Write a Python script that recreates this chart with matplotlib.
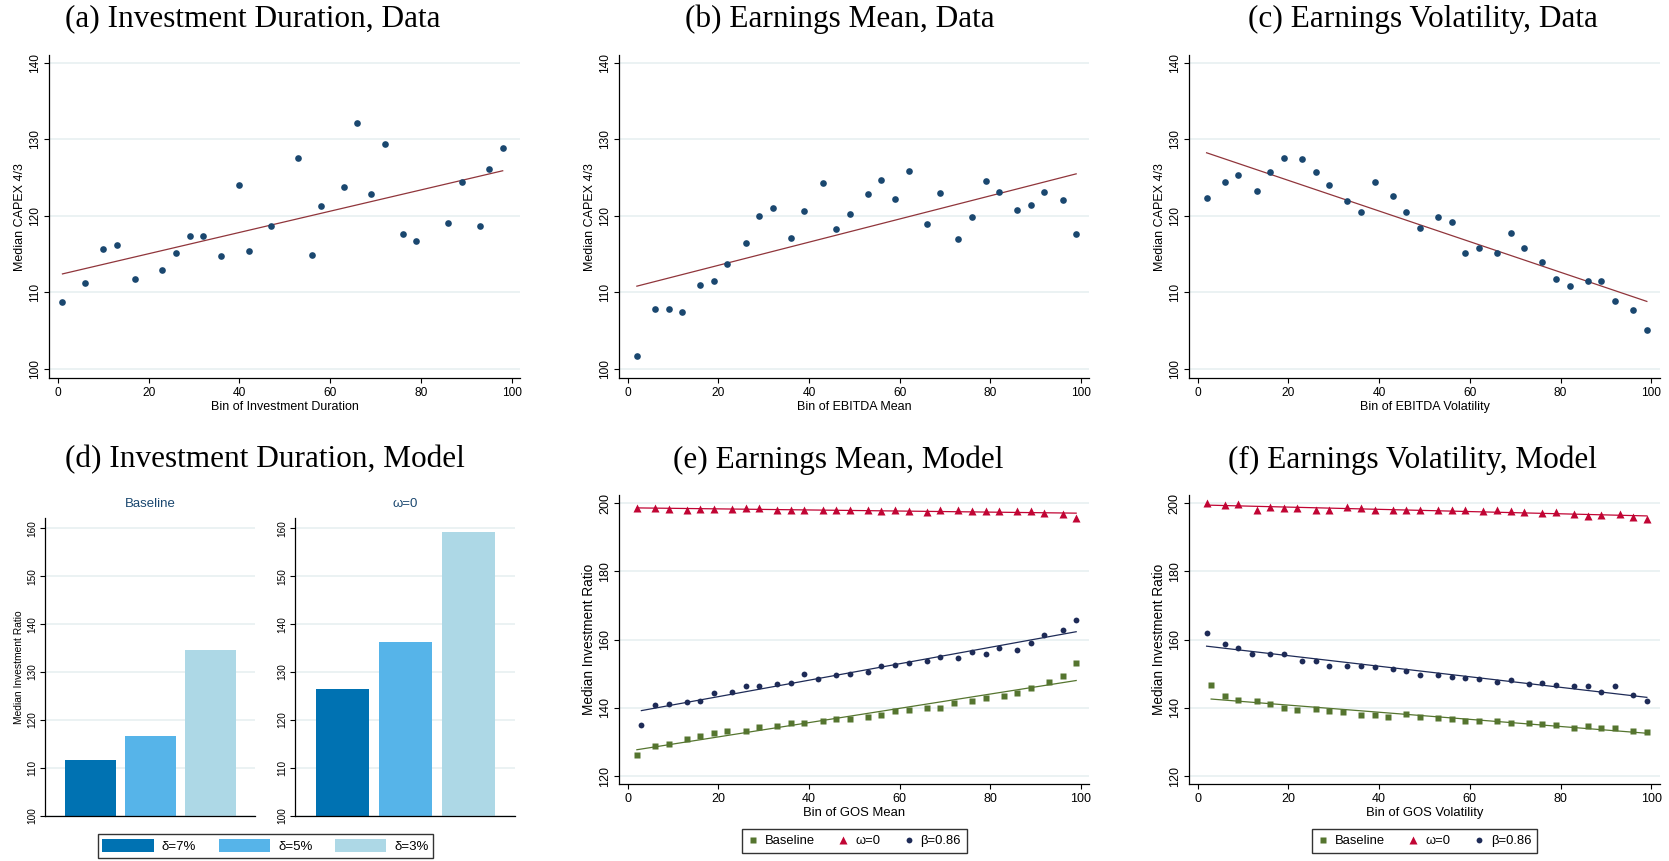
import numpy as np
import matplotlib
matplotlib.use("Agg")
from matplotlib import pyplot as plt
from matplotlib.patches import Patch
from matplotlib.lines import Line2D

plt.rcParams['font.family'] = ['Liberation Sans', 'DejaVu Sans']

# ---- data panels (top row)
a_x = [1, 6, 10, 13, 17, 23, 26, 29, 32, 36, 40, 42, 47, 53, 56, 58, 63, 66, 69, 72, 76, 79, 86, 89, 93, 95, 98]
a_y = [108.7, 111.2, 115.7, 116.2, 111.8, 112.9, 115.2, 117.4, 117.4, 114.7, 124.0, 115.4, 118.7, 127.6,
       114.9, 121.3, 123.8, 132.1, 122.8, 129.4, 117.6, 116.7, 119.1, 124.4, 118.7, 126.1, 128.8]

b_x = [2, 6, 9, 12, 16, 19, 22, 26, 29, 32, 36, 39, 43, 46, 49, 53, 56, 59, 62, 66, 69, 73, 76, 79, 82, 86, 89, 92, 96, 99]
b_y = [101.7, 107.8, 107.8, 107.4, 111.0, 111.5, 113.7, 116.4, 120.0, 121.0, 117.1, 120.6, 124.3, 118.3, 120.2,
       122.8, 124.7, 122.2, 125.9, 118.9, 123.0, 117.0, 119.9, 124.5, 123.1, 120.8, 121.4, 123.1, 122.1, 117.7]

c_x = [2, 6, 9, 13, 16, 19, 23, 26, 29, 33, 36, 39, 43, 46, 49, 53, 56, 59, 62, 66, 69, 72, 76, 79, 82, 86, 89, 92, 96, 99]
c_y = [122.3, 124.4, 125.3, 123.3, 125.7, 127.6, 127.4, 125.7, 124.0, 122.0, 120.5, 124.4, 122.6, 120.5, 118.4,
       119.9, 119.2, 115.1, 115.8, 115.1, 117.8, 115.8, 114.0, 111.7, 110.9, 111.5, 111.5, 108.9, 107.7, 105.1]

# ---- model bars
deltas = ['δ=7%', 'δ=5%', 'δ=3%']
bar_baseline = [111.6, 116.6, 134.6]
bar_omega0 = [126.4, 136.2, 159.2]

# ---- earnings mean, model
e_base_x = [2, 6, 9, 13, 16, 19, 22, 26, 29, 33, 36, 39, 43, 46, 49, 53, 56, 59, 62, 66, 69, 72, 76, 79, 83, 86, 89, 93, 96, 99]
e_base_y = [126.2, 128.7, 129.5, 130.9, 131.7, 132.5, 133.2, 133.2, 134.3, 134.6, 135.5, 135.5, 136.2, 136.6, 136.8,
            137.3, 137.9, 139.0, 139.3, 139.9, 140.1, 141.4, 141.9, 142.8, 143.4, 144.4, 145.7, 147.7, 149.2, 153.2]
e_om_x = [2, 6, 9, 13, 16, 19, 23, 26, 29, 33, 36, 39, 43, 46, 49, 53, 56, 59, 62, 66, 69, 73, 76, 79, 82, 86, 89, 92, 96, 99]
e_om_y = [198.6, 198.6, 198.2, 198.0, 198.4, 198.3, 198.3, 198.5, 198.5, 198.0, 197.9, 197.9, 197.9, 197.9, 197.9,
          198.0, 197.7, 198.1, 197.6, 197.5, 197.9, 197.9, 197.6, 197.6, 197.6, 197.6, 197.7, 197.1, 196.7, 195.8]
e_beta_x = [3, 6, 9, 13, 16, 19, 23, 26, 29, 33, 36, 39, 42, 46, 49, 53, 56, 59, 62, 66, 69, 73, 76, 79, 82, 86, 89, 92, 96, 99]
e_beta_y = [135.0, 140.7, 141.0, 141.7, 141.9, 144.5, 144.7, 146.5, 146.4, 147.1, 147.3, 149.8, 148.5, 149.5, 150.0,
            150.4, 152.4, 152.5, 153.1, 153.8, 155.0, 154.6, 156.5, 155.9, 157.5, 156.9, 159.0, 161.3, 162.7, 165.7]

# ---- earnings volatility, model
f_base_x = [3, 6, 9, 13, 16, 19, 22, 26, 29, 32, 36, 39, 42, 46, 49, 53, 56, 59, 62, 66, 69, 73, 76, 79, 83, 86, 89, 92, 96, 99]
f_base_y = [146.6, 143.5, 142.2, 141.9, 141.2, 140.0, 139.4, 139.6, 139.2, 138.7, 138.0, 137.9, 137.4, 138.3, 137.4,
            137.0, 136.6, 136.1, 136.1, 136.1, 135.6, 135.6, 135.2, 135.1, 134.0, 134.6, 134.2, 134.0, 133.3, 133.0]
f_om_x = [2, 6, 9, 13, 16, 19, 22, 26, 29, 33, 36, 39, 43, 46, 49, 53, 56, 59, 63, 66, 69, 72, 76, 79, 83, 86, 89, 93, 96, 99]
f_om_y = [200.0, 199.5, 199.8, 198.1, 198.8, 198.6, 198.6, 198.0, 198.0, 198.8, 198.5, 197.9, 198.0, 198.0, 197.9,
          197.9, 197.9, 197.9, 197.8, 197.9, 197.7, 197.5, 197.0, 197.4, 196.9, 196.3, 196.4, 196.8, 196.0, 195.3]
f_beta_x = [2, 6, 9, 12, 16, 19, 23, 26, 29, 33, 36, 39, 43, 46, 49, 53, 56, 59, 62, 66, 69, 73, 76, 79, 83, 86, 89, 92, 96, 99]
f_beta_y = [162.0, 158.7, 157.5, 155.7, 155.7, 155.7, 153.8, 153.8, 152.4, 152.4, 152.4, 152.1, 151.3, 150.9, 149.6,
            149.5, 149.1, 148.8, 148.5, 147.6, 148.1, 147.1, 147.2, 146.6, 146.4, 146.4, 144.6, 146.4, 143.7, 141.9]

NAVY = '#1a476f'
MAROON = '#90353b'
GRID = '#e6eff0'
GREEN = '#55752f'
RED = '#c10534'
DNAVY = '#1e2b57'
BAR_COLS = ['#0072b2', '#56b4e9', '#add8e6']

W, H = 1669, 861
fig = plt.figure(figsize=(W / 100, H / 100), dpi=100)


def add_ax(left, right, top, bottom):
    return fig.add_axes([left / W, 1 - bottom / H, (right - left) / W, (bottom - top) / H])


def style(ax, yticks, ylim, fs=8.6):
    for s in ['top', 'right']:
        ax.spines[s].set_visible(False)
    for s in ['left', 'bottom']:
        ax.spines[s].set_linewidth(0.9)
    ax.set_ylim(*ylim)
    ax.set_yticks(yticks)
    ax.grid(axis='y', color=GRID, lw=1.1)
    ax.set_axisbelow(True)
    ax.tick_params(axis='both', length=3.5, width=0.8, pad=2.5, labelsize=fs)
    ax.tick_params(axis='y', labelrotation=90)
    for lab in ax.get_yticklabels():
        lab.set_va('center')


def fit_line(ax, x, y, color, lw=0.9):
    k, b = np.polyfit(x, y, 1)
    xx = np.array([min(x), max(x)])
    ax.plot(xx, k * xx + b, color=color, lw=lw, zorder=2)


# top row
top_panels = [
    (49.3, 520.4, a_x, a_y, 'Bin of Investment Duration'),
    (619.2, 1089.3, b_x, b_y, 'Bin of EBITDA Mean'),
    (1188.9, 1660, c_x, c_y, 'Bin of EBITDA Volatility'),
]
for left, right, x, y, xl in top_panels:
    ax = add_ax(left, right, 55, 378.3)
    ax.plot(x, y, 'o', color=NAVY, ms=4.8, mec='none', zorder=3)
    fit_line(ax, x, y, MAROON)
    ax.set_xlim(-1.9, 101.9)
    ax.set_xticks([0, 20, 40, 60, 80, 100])
    style(ax, [100, 110, 120, 130, 140], (98.8, 141.0))
    ax.set_xlabel(xl, fontsize=9, labelpad=1.5)
    ax.set_ylabel('Median CAPEX 4/3', fontsize=9, labelpad=2)

# bar panel (d)
for i, (left, right, vals, ttl) in enumerate([(45.4, 255.4, bar_baseline, 'Baseline'),
                                               (295.4, 515.4, bar_omega0, 'ω=0')]):
    ax = add_ax(left, right, 518.3, 815.7)
    ax.bar(range(3), [v - 100 for v in vals], bottom=100, width=0.85, color=BAR_COLS, zorder=2)
    ax.set_xlim(-0.75, 2.75)
    ax.set_xticks([])
    style(ax, [100, 110, 120, 130, 140, 150, 160], (100, 162.1), fs=7.2)
    ax.set_title(ttl, fontsize=9.5, color='#1a476f', pad=8)
    if i == 0:
        ax.set_ylabel('Median Investment Ratio', fontsize=7.4, labelpad=2)

handles = [Patch(facecolor=c, edgecolor='none') for c in BAR_COLS]
fig.legend(handles, deltas, loc='center', bbox_to_anchor=(265.5 / W, 1 - 846 / H), ncol=3,
           fontsize=9.5, handlelength=3.9, handleheight=1.1, handletextpad=0.6, columnspacing=1.7,
           frameon=True, fancybox=False, edgecolor='#333333', borderpad=0.35, framealpha=1)

# model scatter panels (e), (f)
model_panels = [
    (619.2, 1089.3, e_base_x, e_base_y, e_om_x, e_om_y, e_beta_x, e_beta_y, 'Bin of GOS Mean'),
    (1188.9, 1660, f_base_x, f_base_y, f_om_x, f_om_y, f_beta_x, f_beta_y, 'Bin of GOS Volatility'),
]
for left, right, bx, by, ox, oy, tx, ty, xl in model_panels:
    ax = add_ax(left, right, 495, 784.3)
    ax.plot(bx, by, 's', color=GREEN, ms=4.2, mec='none', zorder=3)
    ax.plot(ox, oy, '^', color=RED, ms=5.4, mec='none', zorder=3)
    ax.plot(tx, ty, 'o', color=DNAVY, ms=4.2, mec='none', zorder=3)
    fit_line(ax, bx, by, GREEN)
    fit_line(ax, ox, oy, RED)
    fit_line(ax, tx, ty, DNAVY)
    ax.set_xlim(-1.9, 101.9)
    ax.set_xticks([0, 20, 40, 60, 80, 100])
    style(ax, [120, 140, 160, 180, 200], (117.6, 202.4), fs=9)
    ax.set_xlabel(xl, fontsize=9.4, labelpad=1.5)
    ax.set_ylabel('Median Investment Ratio', fontsize=9.8, labelpad=2)
    hs = [Line2D([], [], ls='none', marker='s', color=GREEN, ms=4.2, mec='none'),
          Line2D([], [], ls='none', marker='^', color=RED, ms=5.4, mec='none'),
          Line2D([], [], ls='none', marker='o', color=DNAVY, ms=4.2, mec='none')]
    fig.legend(hs, ['Baseline', 'ω=0', 'β=0.86'], loc='center',
               bbox_to_anchor=((left + right) / 2 / W, 1 - 841 / H), ncol=3, fontsize=9.4,
               handlelength=0.8, handletextpad=0.5, columnspacing=1.8, frameon=True, fancybox=False,
               edgecolor='#333333', borderpad=0.45, framealpha=1)

# panel titles
titles = [
    ('(a) Investment Duration, Data', 253, 19),
    ('(b) Earnings Mean, Data', 840, 19),
    ('(c) Earnings Volatility, Data', 1423, 19),
    ('(d) Investment Duration, Model', 265, 460),
    ('(e) Earnings Mean, Model', 838, 460),
    ('(f) Earnings Volatility, Model', 1412, 460),
]
for t, x, y in titles:
    fig.text(x / W, 1 - y / H, t, ha='center', va='center', fontsize=22.5,
             family=['Liberation Serif', 'DejaVu Serif'])

fig.savefig('out.png', dpi=100, facecolor='white')
